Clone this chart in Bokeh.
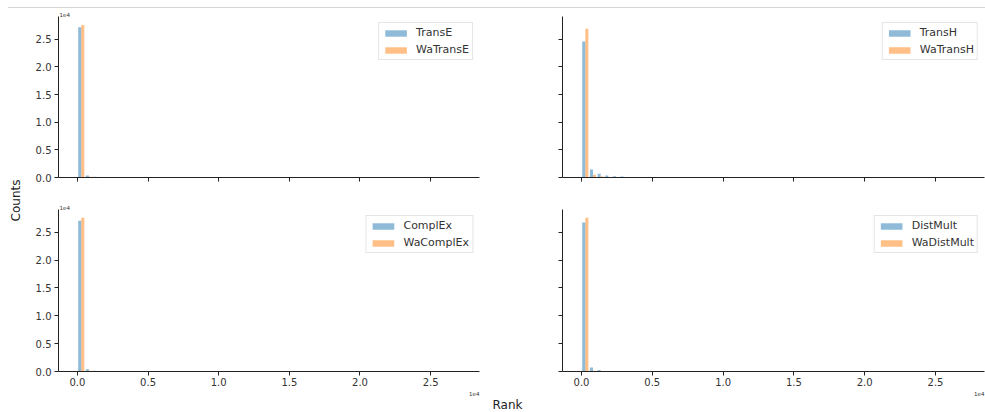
import numpy as np
from math import pi
from bokeh.plotting import figure
from bokeh.models import (ColumnDataSource, Range1d, FixedTicker, Label, Legend, LegendItem,
                          Div, Title)
from bokeh.layouts import row, column
from bokeh.embed import file_html
from bokeh.resources import INLINE

# ---------------- data ----------------
bin_width = 542  # width of one rank bin
tick_values = [0, 5000, 10000, 15000, 20000, 25000]
x_tick_labels = ["0.0", "0.5", "1.0", "1.5", "2.0", "2.5"]
y_tick_labels = ["0.0", "0.5", "1.0", "1.5", "2.0", "2.5"]
offset_text = "1e4"

transe = [27150, 350, 120, 60, 30, 20, 10]
watranse = [27550, 150, 50, 20, 10]
transh = [24560, 1440, 670, 360, 230, 160, 110, 80, 60, 45, 35, 25, 20, 15, 10]
watransh = [26900, 500, 200, 90, 50, 30, 20, 10]
complex_ = [27100, 400, 150, 70, 40, 20, 10]
wacomplex = [27600, 120, 40, 20, 10]
distmult = [26750, 700, 250, 100, 50, 25, 10]
wadistmult = [27600, 150, 50, 20, 10]

X_MIN, X_MAX = -1340, 28460
Y_MAX = 29100

BLUE = "#1f77b4"
ORANGE = "#ff7f0e"
TXT = "#333333"
FONT = "DejaVu Sans"


def make_panel(name_a, name_b, a, b, width, height, mb_left, mb_right, mb_top, mb_bottom,
               show_x, show_y):
    p = figure(width=width, height=height, x_range=Range1d(X_MIN, X_MAX),
               y_range=Range1d(0, Y_MAX), output_backend="svg", toolbar_location=None,
               min_border_left=mb_left, min_border_right=mb_right,
               min_border_top=mb_top, min_border_bottom=mb_bottom)
    p.grid.visible = False
    p.outline_line_color = None
    p.background_fill_color = "white"
    p.border_fill_color = "white"

    ea = np.arange(len(a)) * bin_width
    eb = np.arange(len(b)) * bin_width
    sa = ColumnDataSource(dict(left=ea + 0.1 * bin_width, right=ea + 0.5 * bin_width,
                               top=a, bottom=[0] * len(a)))
    sb = ColumnDataSource(dict(left=eb + 0.5 * bin_width, right=eb + 0.9 * bin_width,
                               top=b, bottom=[0] * len(b)))
    ra = p.quad(left="left", right="right", top="top", bottom="bottom", source=sa,
                fill_color=BLUE, fill_alpha=0.5, line_color=None)
    rb = p.quad(left="left", right="right", top="top", bottom="bottom", source=sb,
                fill_color=ORANGE, fill_alpha=0.5, line_color=None)

    legend = Legend(items=[LegendItem(label=name_a, renderers=[ra]),
                           LegendItem(label=name_b, renderers=[rb])],
                    location="top_right", margin=6, padding=3, spacing=4,
                    glyph_width=27, glyph_height=8, label_height=13, label_standoff=7,
                    label_text_font=FONT, label_text_font_size="11px",
                    label_text_color=TXT, border_line_color="#cccccc",
                    border_line_width=1, background_fill_alpha=0.8)
    p.add_layout(legend)

    for ax, show, labels in ((p.xaxis, show_x, x_tick_labels), (p.yaxis, show_y, y_tick_labels)):
        ax.ticker = FixedTicker(ticks=tick_values)
        ax.minor_tick_line_color = None
        ax.major_tick_in = 0
        ax.major_tick_out = 4
        ax.major_label_standoff = 3
        ax.axis_line_color = "#222222"
        ax.major_tick_line_color = "#222222"
        ax.major_label_text_font = FONT
        ax.major_label_text_font_size = "10px"
        ax.major_label_text_color = TXT
        if show:
            ax.major_label_overrides = {t: l for t, l in zip(tick_values, labels)}
        else:
            ax.major_label_overrides = {t: "" for t in tick_values}
    p.xaxis.major_label_standoff = 2
    return p


def side_text(p, text, place, align, offset, size="5.5px", va="bottom", color=TXT):
    p.add_layout(Title(text=text, align=align, offset=offset, standoff=0,
                       text_font=FONT, text_font_size=size, text_font_style="normal",
                       text_color=color, vertical_align=va), place)


# page geometry (y from page top): line 7..8 ; top row 8..200 (frame 15..177) ;
# bottom row 200..412 (frame 209..371)
tl = make_panel("TransE", "WaTransE", transe, watranse, 458, 192, 25, 11, 7, 23, False, True)
tr = make_panel("TransH", "WaTransH", transh, watransh, 495, 192, 72, 1, 7, 23, False, False)
bl = make_panel("ComplEx", "WaComplEx", complex_, wacomplex, 458, 212, 25, 11, 9, 41, True, True)
br = make_panel("DistMult", "WaDistMult", distmult, wadistmult, 495, 212, 72, 1, 9, 41, True, False)

# y offset texts above the left axes (blank twins keep the frames aligned on the right)
side_text(tl, offset_text, "above", "left", 1)
side_text(tr, " ", "above", "left", 1)
side_text(bl, offset_text, "above", "left", 1)
side_text(br, " ", "above", "left", 1)

# x offset texts below the bottom axes
side_text(bl, offset_text, "below", "right", 0)
side_text(br, offset_text, "below", "right", 0)

# shared x label
side_text(br, "Rank", "below", "left", -70, size="12px", color="#222222")

# shared y label in a narrow strip figure
STRIP_H = 192 + 212
cf = figure(width=32, height=STRIP_H, x_range=Range1d(0, 32), y_range=Range1d(0, STRIP_H),
            output_backend="svg", toolbar_location=None, min_border=0)
cf.axis.visible = False
cf.grid.visible = False
cf.outline_line_color = None
cf.add_layout(Label(x=15, y=STRIP_H - (200 - 8), text="Counts", angle=pi / 2,
                    text_align="center", text_baseline="middle", text_font=FONT,
                    text_font_size="12px", text_color="#222222"))

top_line = Div(text="", width=977, height=1, margin=(7, 0, 0, 8),
               styles={"background-color": "#d4d4d4"})

layout = column(top_line, row(cf, column(row(tl, tr), row(bl, br))))

open("out.html", "w").write(file_html(layout, INLINE))
